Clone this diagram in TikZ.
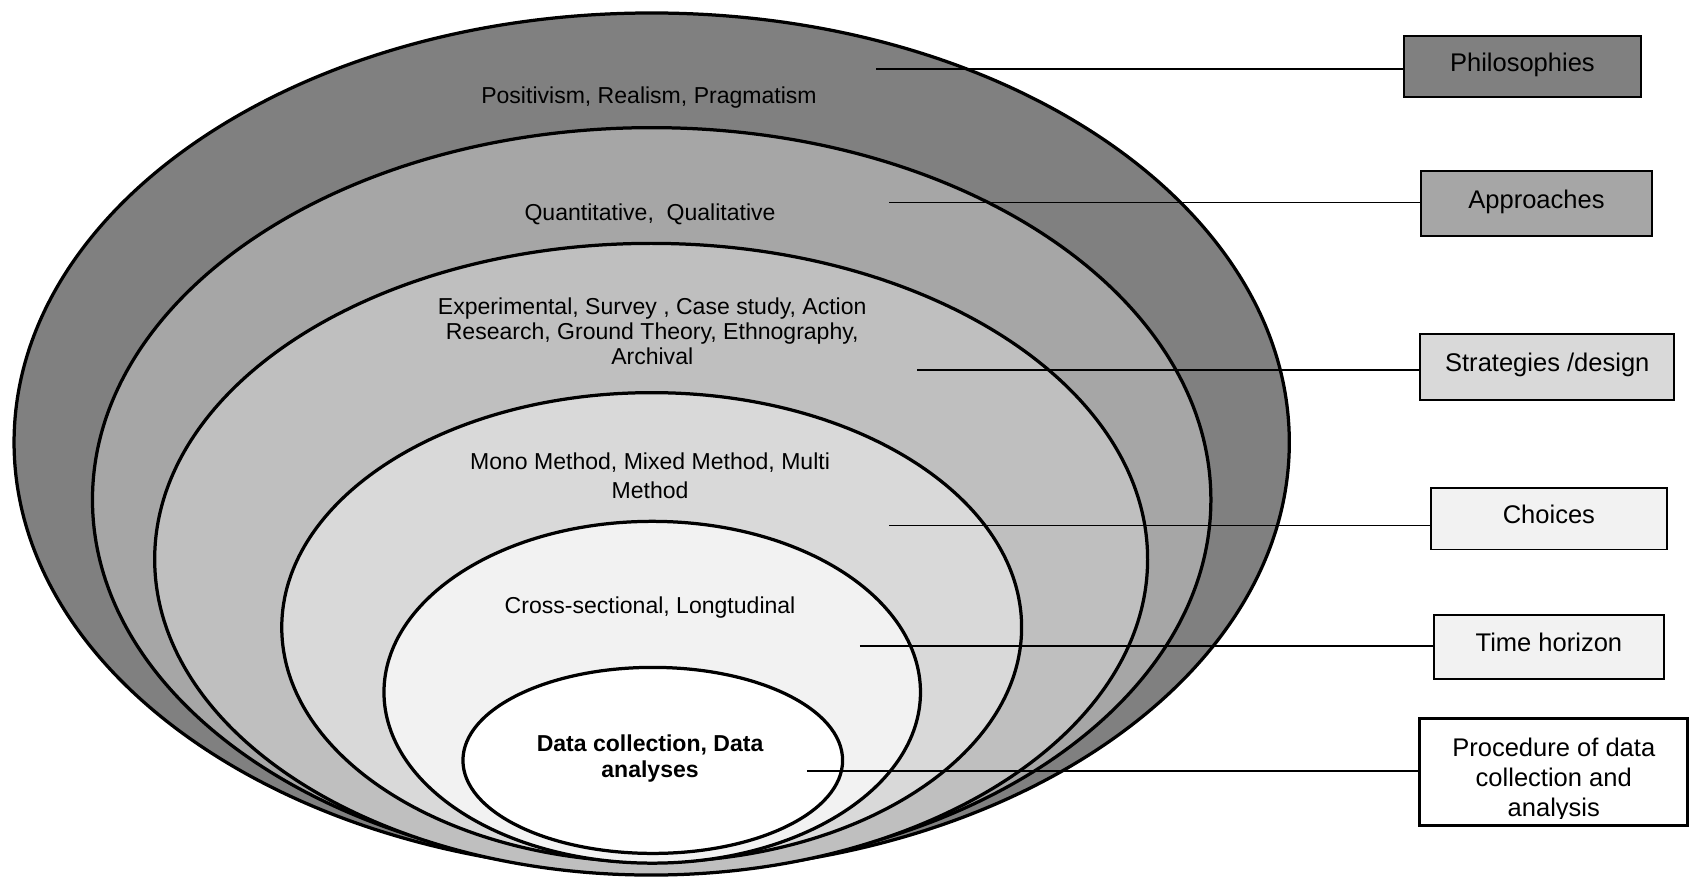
\documentclass[tikz,border=0pt]{standalone}
\usepackage{fontspec}
\setmainfont{Liberation Sans}
\begin{document}
\begin{tikzpicture}[x=1pt,y=-1pt,
  ring/.style={draw=black, line width=3pt},
  layerlabel/.style={font=\fontsize{21.3}{23}\selectfont, align=center, inner sep=0pt},
  tagbox/.style={draw=black, line width=1.8pt, font=\fontsize{23.6}{28}\selectfont,
    inner sep=0pt, align=center, text height=17pt, text depth=8pt},
  leader/.style={draw=black, line width=1.4pt}]
\definecolor{tone1}{HTML}{808080}
\definecolor{tone2}{HTML}{A6A6A6}
\definecolor{tone3}{HTML}{BFBFBF}
\definecolor{tone4}{HTML}{D9D9D9}
\definecolor{tone5}{HTML}{F2F2F2}
\useasboundingbox (0,0) rectangle (1568,820);

% nested layers, outermost first
\filldraw[ring, fill=tone1] (602.5,409) ellipse [x radius=589.5pt, y radius=397pt];
\filldraw[ring, fill=tone2] (602.5,462) ellipse [x radius=517pt, y radius=344pt];
\filldraw[ring, fill=tone3] (602,517) ellipse [x radius=459pt, y radius=292pt];
\filldraw[ring, fill=tone4] (602.5,580) ellipse [x radius=342pt, y radius=217pt];
\filldraw[ring, fill=tone5] (603,640) ellipse [x radius=248pt, y radius=158pt];
\filldraw[ring, fill=white] (603.5,703) ellipse [x radius=175.5pt, y radius=86pt];

% layer contents
\node[layerlabel] (l1) at (600,90) {Positivism, Realism, Pragmatism};
\node[layerlabel] (l2) at (601,198) {Quantitative,\ \ Qualitative};
\node[layerlabel] (l3) at (603,306) {Experimental, Survey , Case study, Action\\Research, Ground Theory, Ethnography,\\Archival};
\node[layerlabel, font=\fontsize{21.3}{27}\selectfont] (l4) at (601,440) {Mono Method, Mixed Method, Multi\\Method};
\node[layerlabel] (l5) at (601,562) {Cross-sectional, Longtudinal};
\node[layerlabel, font=\fontsize{21.3}{24}\selectfont\bfseries] (l6) at (601,701) {Data collection, Data\\analyses};

% layer names
\node[tagbox, fill=tone1, minimum width=219pt, minimum height=57pt] (b1) at (1407.5,61.5) {Philosophies};
\node[tagbox, fill=tone2, minimum width=213pt, minimum height=60pt] (b2) at (1420.5,188) {Approaches};
\node[tagbox, fill=tone4, minimum width=235pt, minimum height=61pt] (b3) at (1430.5,339) {Strategies /design};
\node[tagbox, fill=tone5, minimum width=218pt, minimum height=57pt] (b4) at (1432,479.5) {Choices};
\node[tagbox, fill=tone5, minimum width=212pt, minimum height=59pt] (b5) at (1432,598) {Time horizon};
\node[draw=black, line width=1.8pt, fill=white, inner sep=0pt, minimum width=247pt, minimum height=98pt] (b6) at (1436.5,714) {};
\begin{scope}
  % the text frame ends just under the last baseline
  \clip (b6.north west) rectangle ([yshift=7.5pt]b6.south east);
  \node[font=\fontsize{23.6}{28}\selectfont, align=center, inner sep=0pt] (b6t) at (1436.5,721) {Procedure of data\\collection and\\analysis};
\end{scope}
\draw[line width=1.8pt] (b6.south west) rectangle (b6.north east);

% leader lines
\coordinate (p1) at (810,64);
\coordinate (p2) at (822,187);
\coordinate (p3) at (848,342);
\coordinate (p4) at (822,486);
\coordinate (p5) at (795,597);
\coordinate (p6) at (746,713);
\draw[leader] (p1) -- (p1 -| b1.west);
\draw[leader] (p2) -- (p2 -| b2.west);
\draw[leader] (p3) -- (p3 -| b3.west);
\draw[leader] (p4) -- (p4 -| b4.west);
\draw[leader] (p5) -- (p5 -| b5.west);
\draw[leader] (p6) -- (p6 -| b6.west);
\end{tikzpicture}
\end{document}
